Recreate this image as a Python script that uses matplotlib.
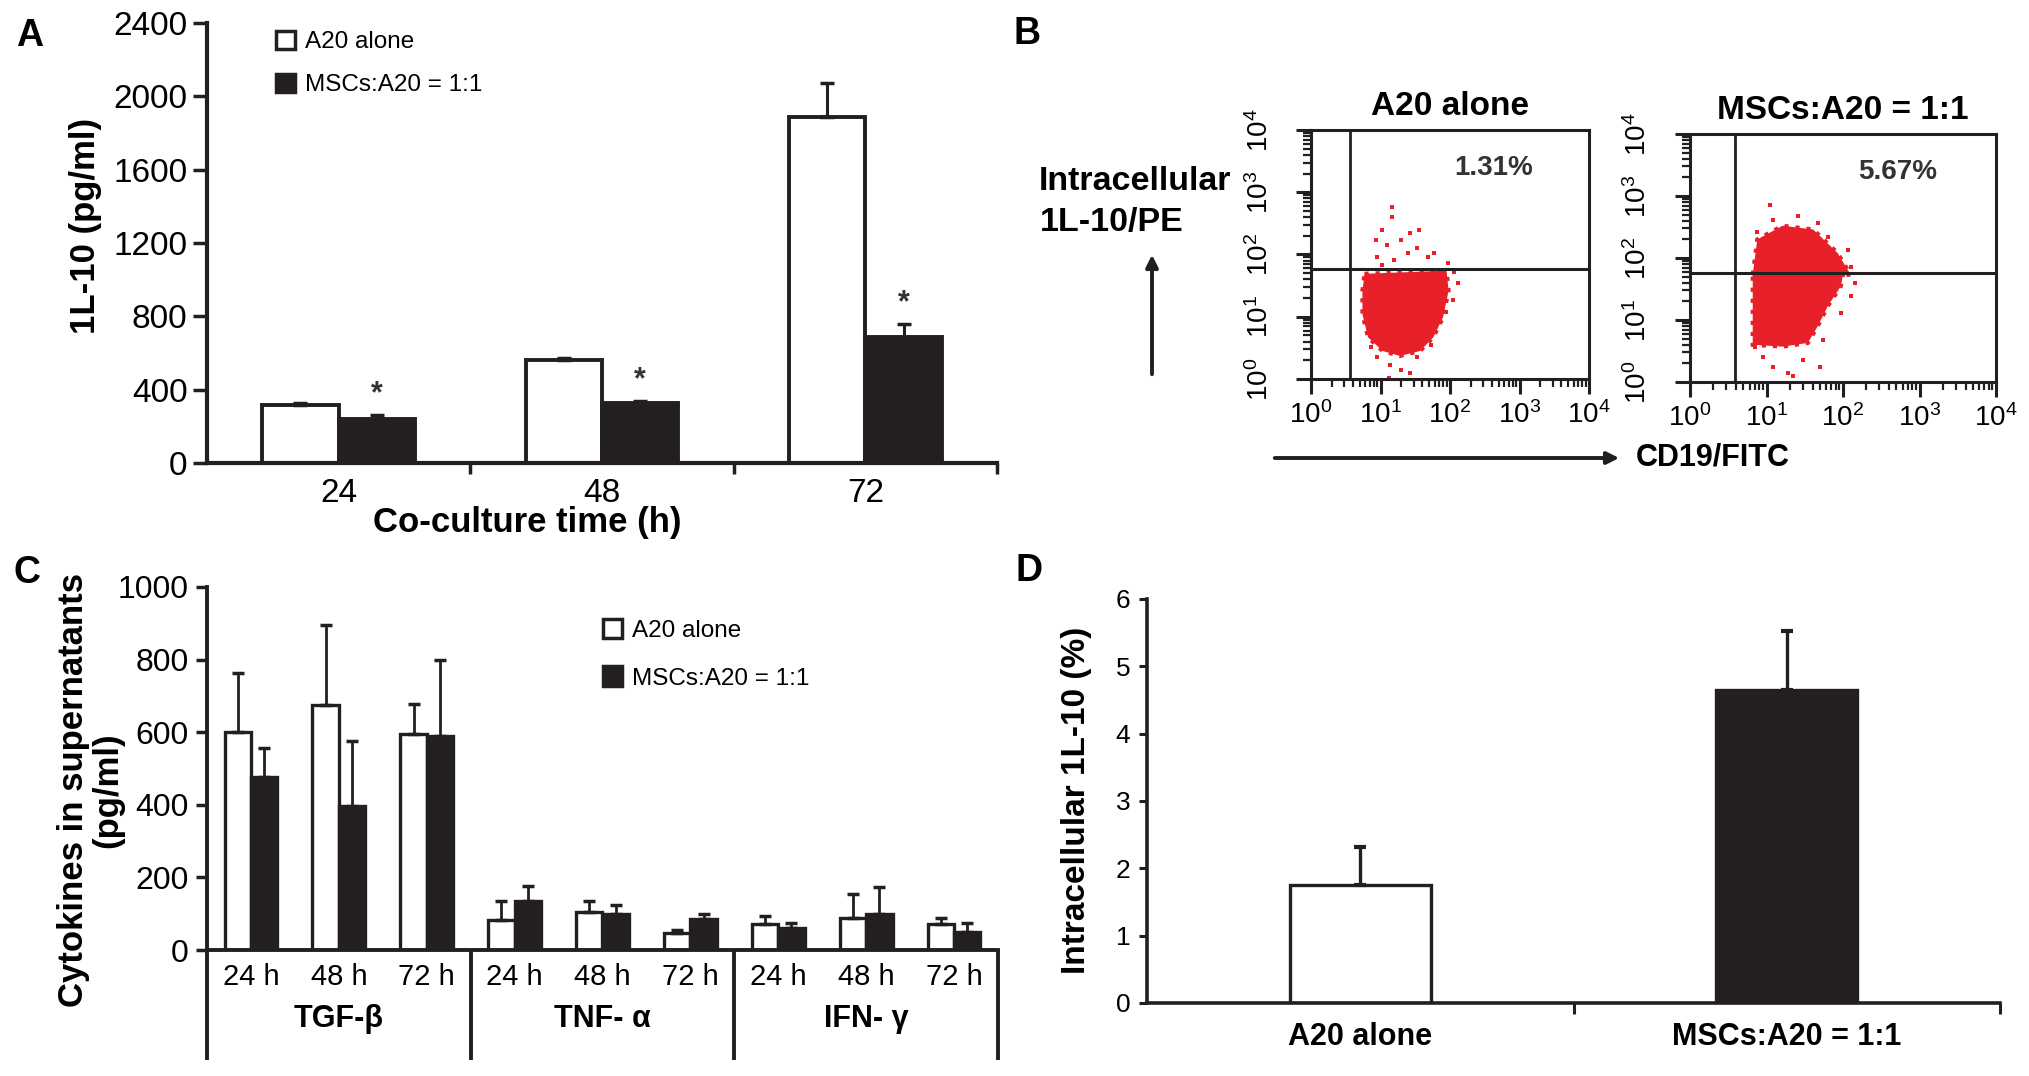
import numpy as np
import matplotlib
matplotlib.use('Agg')
import matplotlib.pyplot as plt
from matplotlib.patches import Patch
from matplotlib.transforms import blended_transform_factory
from matplotlib.ticker import FixedLocator, NullFormatter, FuncFormatter, LogLocator

plt.rcParams['font.family'] = ['Liberation Sans', 'DejaVu Sans']
plt.rcParams['mathtext.fontset'] = 'custom'
plt.rcParams['mathtext.rm'] = 'Liberation Sans'
plt.rcParams['mathtext.it'] = 'Liberation Sans'
plt.rcParams['mathtext.default'] = 'regular'

# ---------------- data ----------------
# Panel A: IL-10 in supernatant
timepoints = ['24', '48', '72']
il10_a20 = [315, 560, 1890]
il10_a20_err = [15, 12, 180]
il10_msc = [240, 325, 690]
il10_msc_err = [22, 15, 70]

# Panel B: flow cytometry (log10 coordinates of the event cloud outline / sparse events)
flow_titles = ['A20 alone', 'MSCs:A20 = 1:1']
flow_pcts = ['1.31%', '5.67%']
gate_x = [3.67, 3.87]
gate_y = [58.5, 57.3]
cloud1_core_lx = [0.77, 1.95, 1.98, 1.90, 1.76, 1.57, 1.28, 1.03, 0.82, 0.74, 0.74]
cloud1_core_ly = [1.69, 1.74, 1.42, 0.99, 0.67, 0.45, 0.37, 0.45, 0.67, 1.04, 1.42]
cloud1_pts_lx = [1.17, 1.17, 1.02, 0.93, 1.10, 1.29, 1.43, 1.56, 1.39, 1.53, 1.68, 1.77, 0.95, 1.19,
                 1.02, 1.97, 2.06, 2.11, 2.04, 1.94, 0.86, 0.95, 1.14, 1.29, 1.43, 1.12, 1.53, 1.72]
cloud1_pts_ly = [2.77, 2.61, 2.39, 2.23, 2.15, 2.23, 2.34, 2.39, 2.02, 2.10, 1.96, 2.02, 1.96, 1.91,
                 1.83, 1.86, 1.72, 1.54, 1.27, 1.08, 0.52, 0.36, 0.22, 0.14, 0.09, 0.01, 0.36, 0.55]
cloud2_core_lx = [0.82, 2.00, 1.97, 1.80, 1.67, 1.54, 1.21, 0.82]
cloud2_core_ly = [1.73, 1.73, 1.54, 1.22, 0.90, 0.63, 0.57, 0.60]
cloud2_top_lx = [0.82, 0.88, 1.21, 1.61, 1.93, 2.10]
cloud2_top_ly = [1.73, 2.30, 2.52, 2.46, 2.08, 1.73]
cloud2_pts_lx = [1.05, 1.08, 0.88, 1.41, 1.67, 1.80, 2.07, 2.10, 2.16, 2.10, 1.97, 1.74, 1.70,
                 0.95, 1.08, 1.28, 1.34, 1.48, 0.85]
cloud2_pts_ly = [2.85, 2.61, 2.42, 2.67, 2.56, 2.34, 2.13, 1.86, 1.59, 1.38, 1.11, 0.68, 0.25,
                 0.41, 0.25, 0.14, 0.09, 0.35, 0.57]

# Panel C: cytokines in supernatants
cyto_groups = ['TGF-β', 'TNF- α', 'IFN- γ']
cyto_times = ['24 h', '48 h', '72 h']
cyto_a20 = [600, 675, 595, 83, 104, 46, 71, 89, 71]
cyto_a20_err = [163, 220, 82, 53, 31, 9, 23, 65, 16]
cyto_msc = [477, 397, 590, 135, 99, 85, 61, 99, 50]
cyto_msc_err = [80, 180, 210, 40, 25, 14, 14, 75, 25]

# Panel D: intracellular IL-10
intra_groups = ['A20 alone', 'MSCs:A20 = 1:1']
intra_vals = [1.75, 4.65]
intra_err = [0.56, 0.88]

legend_labels = ['A20 alone', 'MSCs:A20 = 1:1']

# ---------------- styling ----------------
K = '#231f20'
RED = '#e8202a'
W, H = 2029, 1076
fig = plt.figure(figsize=(W / 100, H / 100), dpi=100)


def ax_px(l, r, t, b):
    return fig.add_axes([l / W, 1 - b / H, (r - l) / W, (b - t) / H])


def fx(x):
    return x / W


def fy(y):
    return 1 - y / H


def legend_handles():
    return [Patch(facecolor='white', edgecolor=K, linewidth=2.5),
            Patch(facecolor=K, edgecolor=K, linewidth=2.5)]


# ================= Panel A =================
axA = ax_px(207, 997, 23, 463)
xa = np.arange(len(timepoints)) + 0.5
wa = 0.29
axA.bar(xa - wa / 2, il10_a20, wa, color='white', edgecolor=K, linewidth=2.8, zorder=2)
axA.bar(xa + wa / 2, il10_msc, wa, color=K, edgecolor=K, linewidth=2.8, zorder=2)
axA.errorbar(xa - wa / 2, il10_a20, yerr=[np.zeros(3), il10_a20_err], fmt='none',
             ecolor=K, elinewidth=2.2, capsize=5, capthick=2.5, zorder=3)
axA.errorbar(xa + wa / 2, il10_msc, yerr=[np.zeros(3), il10_msc_err], fmt='none',
             ecolor=K, elinewidth=2.2, capsize=5, capthick=2.5, zorder=3)
for i in range(len(timepoints)):
    axA.annotate('*', (xa[i] + wa / 2, il10_msc[i] + il10_msc_err[i]), xytext=(0, 15),
                 textcoords='offset points', ha='center', va='center', fontsize=22,
                 fontweight='bold', color='#333333')
axA.set_xlim(0, 3)
axA.set_ylim(0, 2400)
for s in ['top', 'right']:
    axA.spines[s].set_visible(False)
for s in ['left', 'bottom']:
    axA.spines[s].set_linewidth(3)
    axA.spines[s].set_color(K)
axA.set_yticks(np.arange(0, 2401, 400))
axA.tick_params(axis='y', direction='out', length=10, width=2.5, labelsize=24, pad=4, color=K)
axA.xaxis.set_major_locator(FixedLocator([1, 2, 3]))
axA.xaxis.set_major_formatter(NullFormatter())
axA.xaxis.set_minor_locator(FixedLocator(list(xa)))
axA.set_xticklabels(timepoints, minor=True)
axA.tick_params(axis='x', which='major', direction='out', length=8, width=2.5, color=K)
axA.tick_params(axis='x', which='minor', length=0, labelsize=24, pad=11)
axA.legend(legend_handles(), legend_labels, loc='upper left',
           bbox_to_anchor=(fx(276), fy(31)), bbox_transform=fig.transFigure,
           frameon=False, fontsize=17.5, handlelength=0.78, handleheight=0.75,
           handletextpad=0.4, labelspacing=0.85, borderpad=0, borderaxespad=0)
fig.text(fx(85), fy(226), '1L-10 (pg/ml)', rotation=90, ha='center', va='center',
         fontsize=25, fontweight='bold')
fig.text(fx(527), fy(523), 'Co-culture time (h)', ha='center', va='center',
         fontsize=25, fontweight='bold')
fig.text(fx(30), fy(36), 'A', ha='center', va='center', fontsize=27, fontweight='bold')

# ================= Panel B =================
fig.text(fx(1027), fy(34), 'B', ha='center', va='center', fontsize=27, fontweight='bold')
flow_boxes = [(1311, 1589, 130, 379), (1690, 1996, 134, 382)]
pct_pos = [(0.658, 0.847), (0.680, 0.847)]
clouds = [
    dict(core=(cloud1_core_lx, cloud1_core_ly), top=None, pts=(cloud1_pts_lx, cloud1_pts_ly)),
    dict(core=(cloud2_core_lx, cloud2_core_ly), top=(cloud2_top_lx, cloud2_top_ly),
         pts=(cloud2_pts_lx, cloud2_pts_ly)),
]


def pow_fmt(v, pos):
    return r'$10^{%d}$' % int(round(np.log10(v)))


for k, box in enumerate(flow_boxes):
    ax = ax_px(*box)
    ax.set_xscale('log')
    ax.set_yscale('log')
    c = clouds[k]
    ax.fill(10 ** np.array(c['core'][0]), 10 ** np.array(c['core'][1]), facecolor=RED,
            edgecolor=RED, lw=3, linestyle=':', zorder=1)
    if c['top'] is not None:
        ax.fill(10 ** np.array(c['top'][0]), 10 ** np.array(c['top'][1]), facecolor=RED,
                edgecolor=RED, lw=3, linestyle=':', zorder=1)
    ax.scatter(10 ** np.array(c['pts'][0]), 10 ** np.array(c['pts'][1]), s=8, marker='s',
               color=RED, linewidths=0, zorder=1)
    ax.axvline(gate_x[k], color=K, lw=2, zorder=2)
    ax.axhline(gate_y[k], color=K, lw=2.2, zorder=2)
    ax.set_xlim(1, 1e4)
    ax.set_ylim(1, 1e4)
    for s in ax.spines.values():
        s.set_linewidth(2.2)
        s.set_color(K)
    for axis in (ax.xaxis, ax.yaxis):
        axis.set_major_locator(FixedLocator([1, 10, 100, 1000, 10000]))
        axis.set_minor_locator(LogLocator(base=10, subs=np.arange(2, 10), numticks=20))
        axis.set_minor_formatter(NullFormatter())
        axis.set_major_formatter(FuncFormatter(pow_fmt))
    ax.tick_params(which='major', direction='out', length=11, width=2.2, color=K, labelsize=20)
    ax.tick_params(which='minor', direction='out', length=6, width=1.6, color=K)
    ax.tick_params(axis='y', which='major', labelrotation=90, pad=16)
    ax.tick_params(axis='x', which='major', pad=5)
    for lab in ax.get_yticklabels():
        lab.set_va('center')
    ax.set_title(flow_titles[k], fontsize=24, fontweight='bold', pad=11)
    ax.text(pct_pos[k][0], pct_pos[k][1], flow_pcts[k], transform=ax.transAxes, ha='center',
            va='center', fontsize=20, fontweight='bold', color='#333333')

fig.text(fx(1039), fy(182), 'Intracellular', ha='left', va='center', fontsize=24.5,
         fontweight='bold')
fig.text(fx(1040), fy(222), '1L-10/PE', ha='left', va='center', fontsize=24.5, fontweight='bold')
fig.add_artist(matplotlib.patches.FancyArrowPatch((fx(1152), fy(377)), (fx(1152), fy(252)),
                                                  transform=fig.transFigure, arrowstyle='-|>',
                                                  mutation_scale=18, lw=2.8, color=K))
fig.add_artist(matplotlib.patches.FancyArrowPatch((fx(1272), fy(458)), (fx(1622), fy(458)),
                                                  transform=fig.transFigure, arrowstyle='-|>',
                                                  mutation_scale=18, lw=2.8, color=K))
fig.text(fx(1636), fy(458), 'CD19/FITC', ha='left', va='center', fontsize=22, fontweight='bold')

# ================= Panel C =================
axC = ax_px(207, 998, 587, 950)
xc = np.arange(len(cyto_a20)) + 0.5
wc = 0.3
axC.bar(xc - wc / 2, cyto_a20, wc, color='white', edgecolor=K, linewidth=2.4, zorder=2)
axC.bar(xc + wc / 2, cyto_msc, wc, color=K, edgecolor=K, linewidth=2.4, zorder=2)
axC.errorbar(xc - wc / 2, cyto_a20, yerr=[np.zeros(len(xc)), cyto_a20_err], fmt='none',
             ecolor=K, elinewidth=2, capsize=4, capthick=2.5, zorder=3)
axC.errorbar(xc + wc / 2, cyto_msc, yerr=[np.zeros(len(xc)), cyto_msc_err], fmt='none',
             ecolor=K, elinewidth=2, capsize=4, capthick=2.5, zorder=3)
axC.set_xlim(0, 9)
axC.set_ylim(0, 1000)
for s in ['top', 'right']:
    axC.spines[s].set_visible(False)
for s in ['left', 'bottom']:
    axC.spines[s].set_linewidth(2.8)
    axC.spines[s].set_color(K)
axC.set_yticks(np.arange(0, 1001, 200))
axC.tick_params(axis='y', direction='out', length=8, width=2.5, labelsize=23, pad=5, color=K)
axC.set_xticks([])
trC = blended_transform_factory(axC.transData, axC.transAxes)
for i in range(len(xc)):
    axC.text(xc[i], -0.074, cyto_times[i % 3], transform=trC, ha='center', va='center',
             fontsize=21)
for g, name in enumerate(cyto_groups):
    axC.text(3 * g + 1.5, -0.19, name, transform=trC, ha='center', va='center', fontsize=22,
             fontweight='bold')
for b in [0, 3, 6, 9]:
    axC.plot([b, b], [0, -0.303], transform=trC, color=K, lw=2.8, clip_on=False,
             solid_capstyle='butt')
axC.legend(legend_handles(), legend_labels, loc='upper left',
           bbox_to_anchor=(fx(603), fy(619)), bbox_transform=fig.transFigure,
           frameon=False, fontsize=17.5, handlelength=0.78, handleheight=0.85,
           handletextpad=0.4, labelspacing=1.0, borderpad=0, borderaxespad=0)
fig.text(fx(91), fy(790), 'Cytokines in supernatants\n(pg/ml)', rotation=90, ha='center',
         va='center', fontsize=25, fontweight='bold', multialignment='center', linespacing=1.05)
fig.text(fx(27), fy(573), 'C', ha='center', va='center', fontsize=27, fontweight='bold')

# ================= Panel D =================
axD = ax_px(1147, 2000, 599, 1003)
xd = np.arange(len(intra_vals)) + 0.5
wd = 0.33
axD.bar(xd, intra_vals, wd, color=['white', K], edgecolor=K, linewidth=2.4, zorder=2)
axD.errorbar(xd, intra_vals, yerr=[np.zeros(2), intra_err], fmt='none', ecolor=K,
             elinewidth=2.4, capsize=4, capthick=3, zorder=3)
axD.set_xlim(0, 2)
axD.set_ylim(0, 6)
for s in ['top', 'right']:
    axD.spines[s].set_visible(False)
for s in ['left', 'bottom']:
    axD.spines[s].set_linewidth(2.6)
    axD.spines[s].set_color(K)
axD.set_yticks(np.arange(0, 7, 1))
axD.tick_params(axis='y', direction='out', length=6, width=2.2, labelsize=19, pad=6, color=K)
axD.xaxis.set_major_locator(FixedLocator([1, 2]))
axD.xaxis.set_major_formatter(NullFormatter())
axD.xaxis.set_minor_locator(FixedLocator(list(xd)))
axD.set_xticklabels(intra_groups, minor=True, fontweight='bold')
axD.tick_params(axis='x', which='major', direction='out', length=8, width=2.2, color=K)
axD.tick_params(axis='x', which='minor', length=0, labelsize=22, pad=14)
fig.text(fx(1076), fy(800), 'Intracellular 1L-10 (%)', rotation=90, ha='center', va='center',
         fontsize=24, fontweight='bold')
fig.text(fx(1029), fy(571), 'D', ha='center', va='center', fontsize=27, fontweight='bold')

fig.savefig('out.png', dpi=100)
